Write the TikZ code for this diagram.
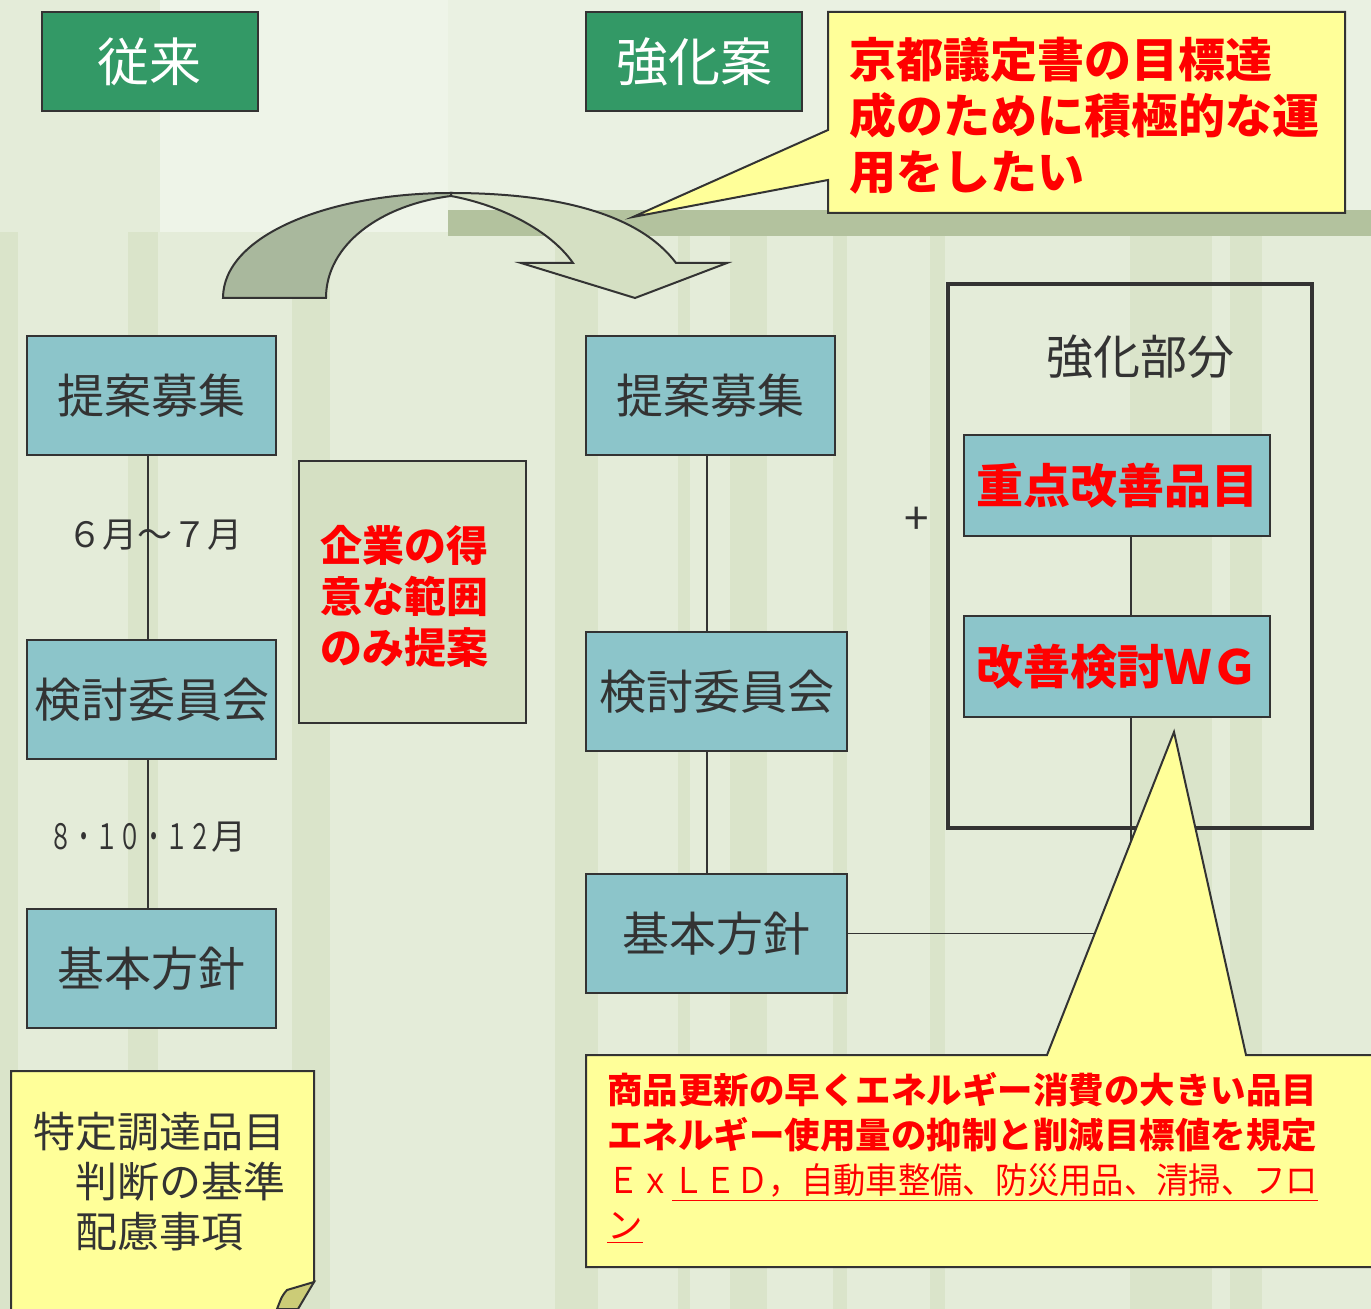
\documentclass[tikz,border=0pt]{standalone}
\usepackage{fontspec}
\usetikzlibrary{calc}
\setmainfont{Noto Sans CJK JP}
\definecolor{bgC}{HTML}{E4ECD9}
\definecolor{bgL}{HTML}{EEF4E8}
\definecolor{stalk}{HTML}{DAE4CA}
\definecolor{band}{HTML}{B3C29E}
\definecolor{lineC}{HTML}{333333}
\definecolor{teal1}{HTML}{8CC5CA}
\definecolor{grn}{HTML}{339966}
\definecolor{grnL}{HTML}{D5E0C3}
\definecolor{arrD}{HTML}{A9B89D}
\definecolor{yel}{HTML}{FFFF99}
\definecolor{foldC}{HTML}{CCCC77}
\definecolor{txtC}{HTML}{333333}
\definecolor{redC}{HTML}{FF0000}
\begin{document}
\begin{tikzpicture}[x=0.5pt,y=-0.5pt,
  bx/.style={draw=lineC, line width=1pt, fill=teal1, inner sep=0pt, text=txtC,
    font=\fontsize{23.5}{26}\selectfont, minimum width=124.5pt, minimum height=59.5pt},
  rbx/.style={bx, text=redC, font=\fontsize{23.5}{26}\selectfont\bfseries, minimum width=153pt, minimum height=50.5pt},
  titlebox/.style={draw=lineC, line width=1pt, fill=grn, text=white, inner sep=0pt,
    font=\fontsize{26}{28}\selectfont, minimum width=108pt, minimum height=49.5pt},
  lbl/.style={text=txtC, inner sep=0pt, font=\fontsize{17.5}{20}\selectfont},
  conn/.style={draw=lineC, line width=0.8pt},
  outl/.style={draw=lineC, line width=1pt}]
\useasboundingbox (0,0) rectangle (1371,1309);
\clip (0,0) rectangle (1371,1309);
% background
\fill[bgC] (0,0) rectangle (1371,1309);
\fill[bgL] (160,0) rectangle (448,232);
\fill[bgL!60!bgC] (448,0) rectangle (1371,210);
\foreach \a/\b in {0/18,128/158,292/330,555/598,678/690,730/767,833/847,930/945,1130/1212,1230/1262}
  \fill[stalk] (\a,232) rectangle (\b,1309);
\fill[band] (448,210) rectangle (1371,236);
% curved arrow
\path[outl, fill=grnL] (451,193) .. controls (560,193) and (640,215) .. (676,263)
  -- (727,263) -- (635,298) -- (521,263) -- (573,263)
  .. controls (550,230) and (500,205) .. (451,196) -- cycle;
\path[outl, fill=arrD] (223,298) .. controls (223,235) and (330,193) .. (451,193)
  -- (451,196) .. controls (380,205) and (326,245) .. (326,298) -- cycle;
% top callout
\path[outl, fill=yel] (828,12) -- (1345,12) -- (1345,213) -- (828,213) -- (828,180)
  -- (633,217) -- (828,130) -- cycle;
\node[anchor=north west, inner sep=0pt, align=left, text=redC,
  font=\fontsize{23.5}{28}\selectfont\bfseries] (kyoto) at (849,37)
  {京都議定書の目標達\\成のために積極的な運\\用をしたい};
% titles
\node[titlebox] (jurai) at (149.5,61.5) {従来};
\node[titlebox] (kyokaan) at (694,61.5) {強化案};
% left column
\node[bx] (tl) at (151.5,395.5) {提案募集};
\node[bx] (kl) at (151.5,700) {検討委員会};
\node[bx] (bl) at (151.5,968.5) {基本方針};
\draw[conn] ($(tl.south)+(-3.5,0)$) -- ($(kl.north)+(-3.5,0)$);
\draw[conn] ($(kl.south)+(-3.5,0)$) -- ($(bl.north)+(-3.5,0)$);
\node[lbl] (m1) at (155,535) {６月～７月};
\node[lbl] (m2) at (148,837) {\scalebox{0.66}[1]{８・１０・１２}月};
% middle info box
\node[draw=lineC, line width=1pt, fill=grnL, minimum width=113.5pt, minimum height=131pt,
  inner sep=0pt] (tokui) at (412.5,592) {};
\node[anchor=north west, inner sep=0pt, align=left, text=redC, font=\fontsize{21}{25.5}\selectfont\bfseries]
  (tokuitxt) at (320,525) {企業の得\\意な範囲\\のみ提案};
% middle column
\node[bx] (tm) at (710.5,395.5) {提案募集};
\node[bx, minimum width=130.5pt] (km) at (716.5,691.5) {検討委員会};
\node[bx, minimum width=130.5pt] (bm) at (716.5,933.5) {基本方針};
\draw[conn] ($(tm.south)+(-3.5,0)$) -- ($(tm.south |- km.north)+(-3.5,0)$);
\draw[conn] ($(km.south)+(-9.5,0)$) -- ($(bm.north)+(-9.5,0)$);
\node[text=txtC, inner sep=0pt, font=\fontsize{22}{24}\selectfont] (plus) at (917,521) {+};
% right frame
\node[draw=lineC, line width=2.2pt, minimum width=182pt, minimum height=272pt, inner sep=0pt] (frame) at (1130,556) {};
\node[text=txtC, inner sep=0pt, font=\fontsize{23.5}{26}\selectfont] (kyobu) at (1140,357) {強化部分};
\node[rbx] (jp) at (1117,485.5) {重点改善品目};
\node[rbx] (wg) at (1117,667) {改善検討ＷＧ};
\draw[conn] ($(jp.south)+(14,0)$) -- ($(wg.north)+(14,0)$);
\draw[conn] (bm.east) -| ($(wg.south)+(14,0)$);
% bottom callout
\path[outl, fill=yel] (586,1055) -- (1047,1055) -- (1174,732) -- (1246,1055) -- (1380,1055)
  -- (1380,1267) -- (586,1267) -- cycle;
\node[anchor=north west, inner sep=0pt, align=left, text=redC,
  font=\fontsize{17.75}{22.5}\selectfont] (shohin) at (607,1072)
  {\bfseries 商品更新の早くエネルギー消費の大きい品目\\
   \bfseries エネルギー使用量の抑制と削減目標値を規定\\
   \scalebox{0.91}[1]{Ｅｘ\underline{ＬＥＤ，自動車整備、防災用品、清掃、フロ}}\\
   \underline{ン}};
% bottom-left note
\path[outl, fill=yel] (11,1071) -- (314,1071) -- (314,1282) -- (280,1318) -- (11,1318) -- cycle;
\path[outl, fill=foldC] (314,1282) -- (287,1290) .. controls (282,1296) .. (277,1309)
  -- (298,1309) -- cycle;
\node[anchor=north west, inner sep=0pt, align=left, text=txtC,
  font=\fontsize{21}{25}\selectfont] (tokutei) at (33,1112)
  {特定調達品目\\　判断の基準\\　配慮事項};
\end{tikzpicture}
\end{document}
